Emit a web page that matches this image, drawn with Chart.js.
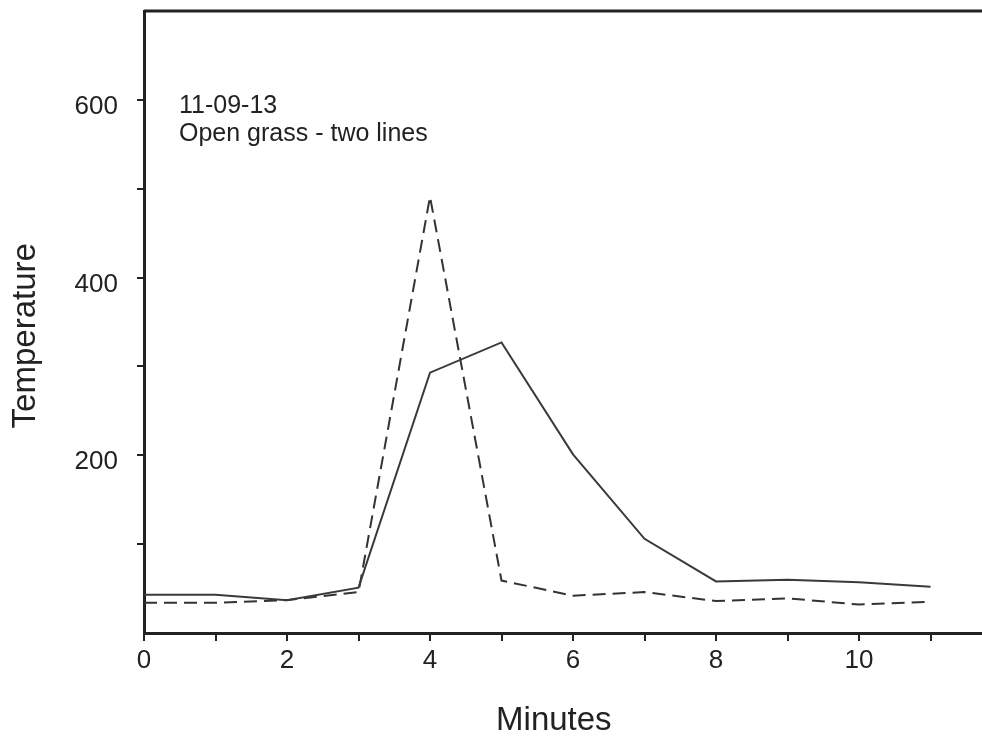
<!DOCTYPE html>
<html>
<head>
<meta charset="utf-8">
<script src="https://cdn.jsdelivr.net/npm/chart.js@4"></script>
<style>
  body { margin: 0; background: #fff; }
  #wrap { width: 982px; height: 742px; }
</style>
</head>
<body>
<div id="wrap"><canvas id="myChart"></canvas></div>
<script>
  const minutes = [0, 1, 2, 3, 4, 5, 6, 7, 8, 9, 10, 11];
  const solidLine = [43, 43, 37, 51, 293, 327, 201, 106, 58, 60, 57, 52];
  const dashedLine = [34, 34, 37, 46, 491, 59, 42, 46, 36, 39, 32, 35];
  const yLabelled = [200, 400, 600];
  const xLabelled = [0, 2, 4, 6, 8, 10];
  const noteLines = ['11-09-13', 'Open grass - two lines'];

  const FONT = "'Liberation Sans', Arial, sans-serif";
  const INK = '#222';

  // frame top edge + the little note in the corner
  const extras = {
    id: 'extras',
    afterDraw(chart) {
      const ctx = chart.ctx;
      const area = chart.chartArea;
      ctx.save();
      ctx.strokeStyle = INK;
      ctx.lineWidth = 3;
      ctx.beginPath();
      ctx.moveTo(area.left, area.top);
      ctx.lineTo(area.right, area.top);
      ctx.stroke();
      ctx.fillStyle = INK;
      ctx.font = '25px ' + FONT;
      ctx.textBaseline = 'alphabetic';
      noteLines.forEach(function(txt, i) {
        ctx.fillText(txt, area.left + 35, area.top + 102 + i * 28);
      });
      ctx.restore();
    }
  };

  const data = {
    datasets: [{
      label: 'solid',
      data: minutes.map(function(m, i) { return {x: m, y: solidLine[i]}; }),
      borderColor: '#3a3a3a',
      borderWidth: 2,
      pointRadius: 0,
      tension: 0
    }, {
      label: 'dashed',
      data: minutes.map(function(m, i) { return {x: m, y: dashedLine[i]}; }),
      borderColor: '#333',
      borderWidth: 2,
      borderDash: [13, 7],
      pointRadius: 0,
      tension: 0
    }]
  };

  const config = {
    type: 'line',
    data: data,
    options: {
      responsive: true,
      maintainAspectRatio: false,
      animation: false,
      layout: { padding: { top: 11, left: 0, right: 0, bottom: 0 } },
      plugins: { legend: { display: false }, tooltip: { enabled: false } },
      scales: {
        x: {
          type: 'linear',
          min: 0,
          max: 11.72,
          afterFit: function(scale) {
            scale.height = 109;
            scale.paddingLeft = 0;
            scale.paddingRight = 0;
          },
          border: { color: INK, width: 3 },
          grid: { drawOnChartArea: false, tickLength: 8, color: INK, lineWidth: 2 },
          ticks: {
            stepSize: 1,
            includeBounds: false,
            maxRotation: 0,
            autoSkip: false,
            padding: 4,
            color: INK,
            font: { family: FONT, size: 26 },
            callback: function(v) { return xLabelled.includes(v) ? String(v) : ''; }
          },
          title: {
            display: true,
            text: 'Minutes  ',
            color: INK,
            font: { family: FONT, size: 33 },
            padding: { top: 0, bottom: 1 }
          }
        },
        y: {
          min: 0,
          max: 700,
          afterFit: function(scale) {
            scale.width = 144;
            scale.paddingTop = 0;
            scale.paddingBottom = 0;
          },
          border: { color: INK, width: 3 },
          grid: {
            drawOnChartArea: false,
            tickLength: 7,
            lineWidth: 2,
            color: function(c) {
              return (c.tick && (c.tick.value === 0 || c.tick.value === 700)) ? 'rgba(0,0,0,0)' : INK;
            }
          },
          ticks: {
            stepSize: 100,
            padding: 19,
            labelOffset: 7,
            color: INK,
            font: { family: FONT, size: 26 },
            callback: function(v) { return yLabelled.includes(v) ? String(v) : ''; }
          },
          title: {
            display: true,
            text: 'Temperature   ',
            color: INK,
            font: { family: FONT, size: 33 },
            padding: { top: 6, bottom: 0 }
          }
        }
      }
    },
    plugins: [extras]
  };

  const myChart = new Chart(document.getElementById('myChart'), config);
</script>
</body>
</html>
